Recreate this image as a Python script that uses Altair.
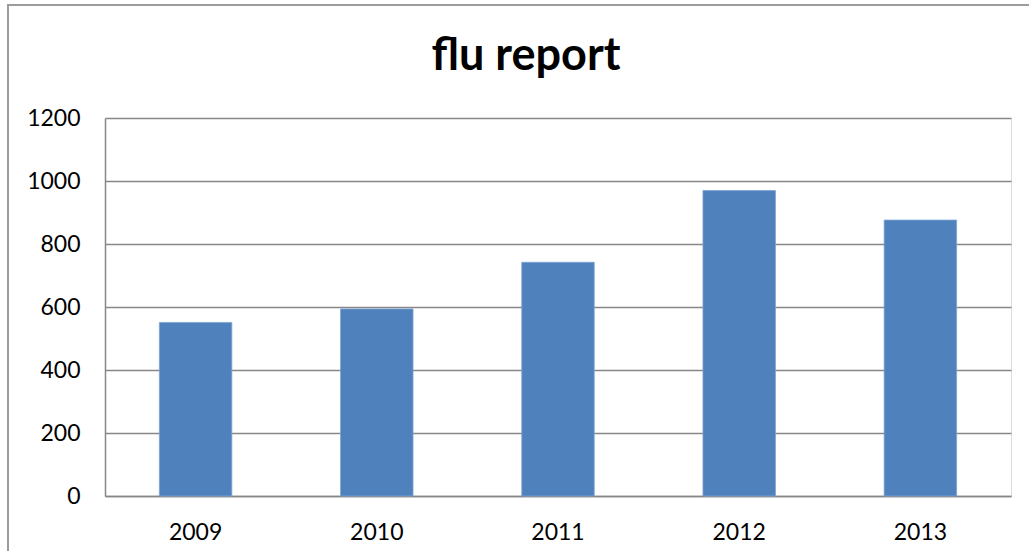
import altair as alt
import pandas as pd

# Yearly flu report counts
years = ["2009", "2010", "2011", "2012", "2013"]
cases = [551, 594, 742, 970, 876]
y_ticks = [0, 200, 400, 600, 800, 1000, 1200]

df = pd.DataFrame({"year": years, "cases": cases})

FONT = "Lato"
GRAY = "#878787"

bars = alt.Chart(df).mark_bar(color="#4F81BD", stroke="#7FA3D3", strokeWidth=0.8).encode(
    x=alt.X(
        "year:N",
        sort=years,
        title=None,
        scale=alt.Scale(paddingInner=0.6, paddingOuter=0.3),
        axis=alt.Axis(
            labelAngle=0,
            ticks=False,
            domainColor=GRAY,
            domainWidth=1.5,
            labelPadding=25,
            labelBaseline="top",
            labelFontSize=23,
            labelFont=FONT,
            labelColor="#000000",
            grid=False,
        ),
    ),
    y=alt.Y(
        "cases:Q",
        title=None,
        scale=alt.Scale(domain=[0, 1200], nice=False),
        axis=alt.Axis(
            values=y_ticks,
            format="d",
            ticks=False,
            domainColor=GRAY,
            domainWidth=1.5,
            gridColor=GRAY,
            gridWidth=1.5,
            labelPadding=25,
            labelFontSize=23,
            labelFont=FONT,
            labelColor="#000000",
        ),
    ),
)

# Outer chart frame: left and top edges (the others run past the page)
frame_src = alt.Data(values=[{"f": 1}])
frame_left = alt.Chart(frame_src).mark_rule(stroke="#9C9C9C", strokeWidth=2).encode(
    x=alt.value(-97),
    y=alt.value(-114),
    y2=alt.value(460),
)
frame_top = alt.Chart(frame_src).mark_rule(stroke="#9C9C9C", strokeWidth=2).encode(
    x=alt.value(-98),
    x2=alt.value(930),
    y=alt.value(-113),
)

chart = (
    alt.layer(frame_left, frame_top, bars)
    .properties(
        width=906,
        height=378,
        title=alt.TitleParams(
            "flu report",
            font=FONT,
            fontSize=45,
            fontWeight="bold",
            color="#000000",
            anchor="middle",
            baseline="alphabetic",
            dx=-32,
            offset=-112,
        ),
        autosize=alt.AutoSizeParams(type="none"),
        padding={"left": 105, "top": 118, "right": 18, "bottom": 55},
    )
    .configure_view(stroke=None)
    .configure(background="#FFFFFF")
)

chart.save("out.html", embed_options={"renderer": "svg", "actions": False})
